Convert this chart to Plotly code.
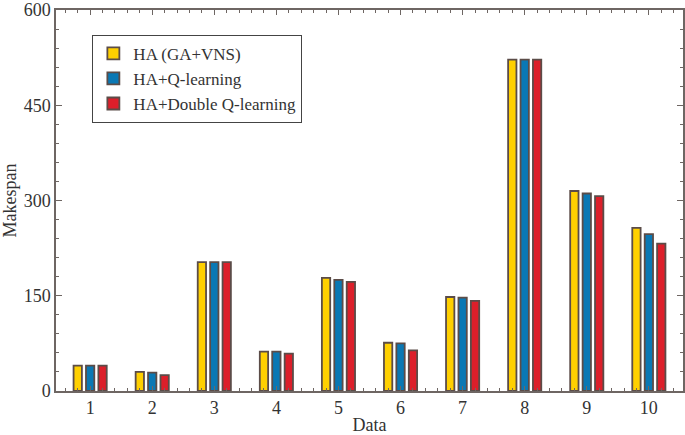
import plotly.graph_objects as go

# ----------------------------------------------------------------------------
# Data
# ----------------------------------------------------------------------------
datasets = [1, 2, 3, 4, 5, 6, 7, 8, 9, 10]
ha_ga_vns = [40, 30, 203, 62, 178, 76, 148, 522, 315, 257]
ha_q = [40, 29, 203, 62, 175, 75, 147, 522, 311, 247]
ha_double_q = [40, 25, 203, 59, 172, 64, 142, 522, 307, 232]

series_names = ['HA (GA+VNS)', 'HA+Q-learning', 'HA+Double Q-learning']
series_colors = ['#FFD000', '#0A78B4', '#DC1F2A']

y_ticks = [0, 150, 300, 450, 600]

FONT = 'Liberation Serif, Times New Roman, serif'
TEXT_COLOR = '#333333'
AXIS_COLOR = '#6e6663'
EDGE_COLOR = '#5b4c48'

fig = go.Figure()

for name, values, color in zip(series_names, [ha_ga_vns, ha_q, ha_double_q], series_colors):
    fig.add_trace(go.Bar(
        x=datasets,
        y=values,
        name=name,
        marker=dict(color=color, line=dict(color=EDGE_COLOR, width=1.8)),
    ))

fig.update_layout(
    width=685,
    height=435,
    barmode='group',
    bargap=0.4,
    bargroupgap=0.33,
    plot_bgcolor='white',
    paper_bgcolor='white',
    font=dict(family=FONT, size=18, color=TEXT_COLOR),
    margin=dict(l=56, r=2, t=10, b=44),
    showlegend=True,
    legend=dict(
        x=0.058, y=0.935, xanchor='left', yanchor='top',
        bgcolor='white', bordercolor='#444444', borderwidth=1,
        font=dict(family=FONT, size=17, color=TEXT_COLOR),
        itemwidth=30, tracegroupgap=0,
    ),
)

fig.update_xaxes(
    range=[0.45, 10.55],
    tickvals=datasets,
    ticks='inside', ticklen=5, tickcolor=AXIS_COLOR,
    minor=dict(dtick=0.2, tick0=0, ticks='inside', ticklen=3, tickcolor=AXIS_COLOR),
    showline=True, linecolor=AXIS_COLOR, linewidth=1.5, mirror='allticks',
    showgrid=False, zeroline=False, automargin=False,
    tickfont=dict(size=18),
    title=dict(text='Data', standoff=7, font=dict(size=18)),
)

fig.update_yaxes(
    range=[0, 600.01],
    tickvals=y_ticks,
    ticks='inside', ticklen=6, tickcolor=AXIS_COLOR,
    minor=dict(dtick=30, tick0=0, ticks='inside', ticklen=3, tickcolor=AXIS_COLOR),
    showline=True, linecolor=AXIS_COLOR, linewidth=1.5, mirror='allticks',
    showgrid=False, zeroline=False, automargin=False,
    ticklabeloverflow='allow',
    tickfont=dict(size=18),
    title=dict(text='Makespan', standoff=4, font=dict(size=18)),
)

# drop the default page margin so the figure sits at the window's top-left
fig.write_html(
    "out.html",
    config={'displayModeBar': False},
    post_script="document.body.style.margin='0px';",
)
